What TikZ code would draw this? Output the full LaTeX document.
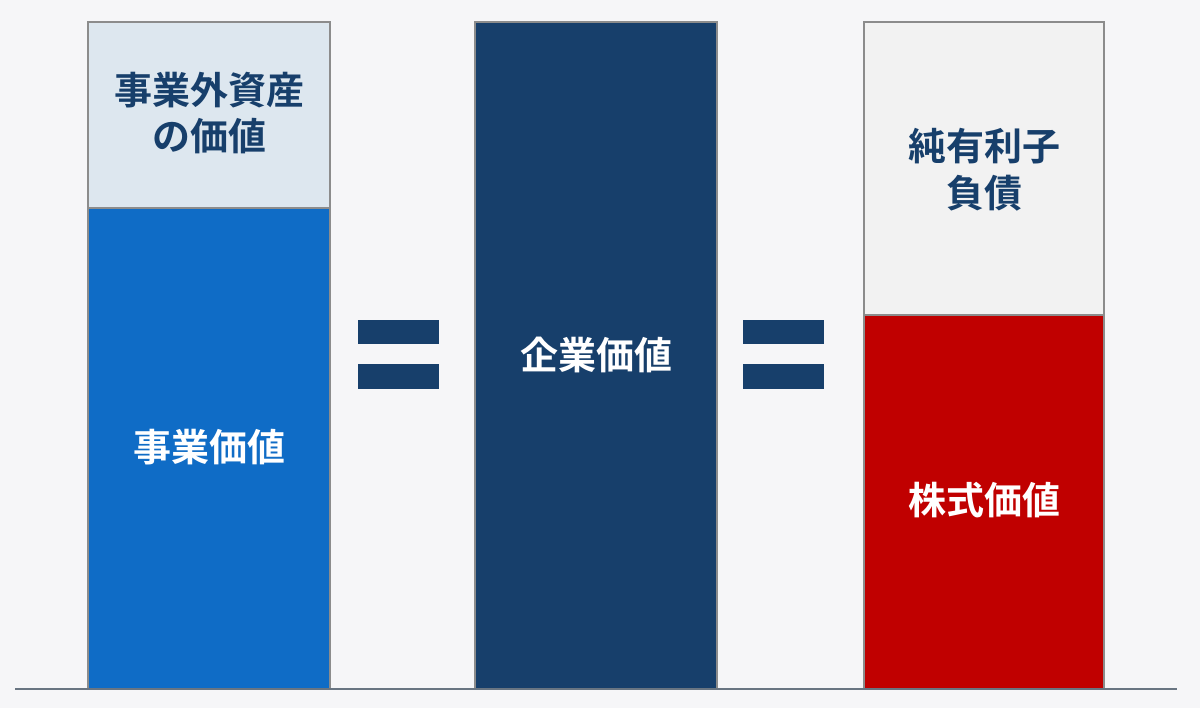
\documentclass[tikz,border=0pt]{standalone}
\usepackage{fontspec}
\newfontfamily\jpfont{Noto Sans CJK JP}[BoldFont={Noto Sans CJK JP Bold}]
\definecolor{bgGray}{HTML}{F6F6F8}
\definecolor{paleBlue}{HTML}{DDE7EF}
\definecolor{midBlue}{HTML}{0F6CC6}
\definecolor{navyBlue}{HTML}{173F6B}
\definecolor{paleGray}{HTML}{F2F2F2}
\definecolor{deepRed}{HTML}{C00000}
\definecolor{edgeGray}{HTML}{8C8C8C}

\begin{document}
\begin{tikzpicture}[x=0.75pt,y=-0.75pt,
  block/.style={draw=edgeGray, line width=0.8pt},
  lbl/.style={font=\jpfont\bfseries\fontsize{28.5}{35}\selectfont, align=center, inner sep=0pt},
  eqbar/.style={fill=navyBlue}]
\useasboundingbox (0,0) rectangle (1200,708);
\fill[bgGray] (0,0) rectangle (1200,708);
%
\fill[block, fill=paleBlue] (88,22) rectangle (330,208);
\fill[block, fill=midBlue] (88,208) rectangle (330,689);
\node[lbl, text=navyBlue] (outside) at (209,113) {事業外資産\\の価値};
\node[lbl, text=white] (business) at (209,447) {事業価値};
%
\fill[block, fill=navyBlue] (475,22) rectangle (717,689);
\node[lbl, text=white] (enterprise) at (596,355) {企業価値};
%
\fill[block, fill=paleGray] (864,22) rectangle (1104,315);
\fill[block, fill=deepRed] (864,315) rectangle (1104,689);
\node[lbl, text=navyBlue] (debt) at (984,170) {純有利子\\負債};
\node[lbl, text=white] (equity) at (984,500) {株式価値};
%
\foreach \xa in {358,743} {
  \fill[eqbar] (\xa,320) rectangle ++(81,24);
  \fill[eqbar] (\xa,364) rectangle ++(81,25);
}
%
\draw[line width=1.2pt, edgeGray!70!navyBlue] (15,689) -- (1177,689);
\end{tikzpicture}
\end{document}
